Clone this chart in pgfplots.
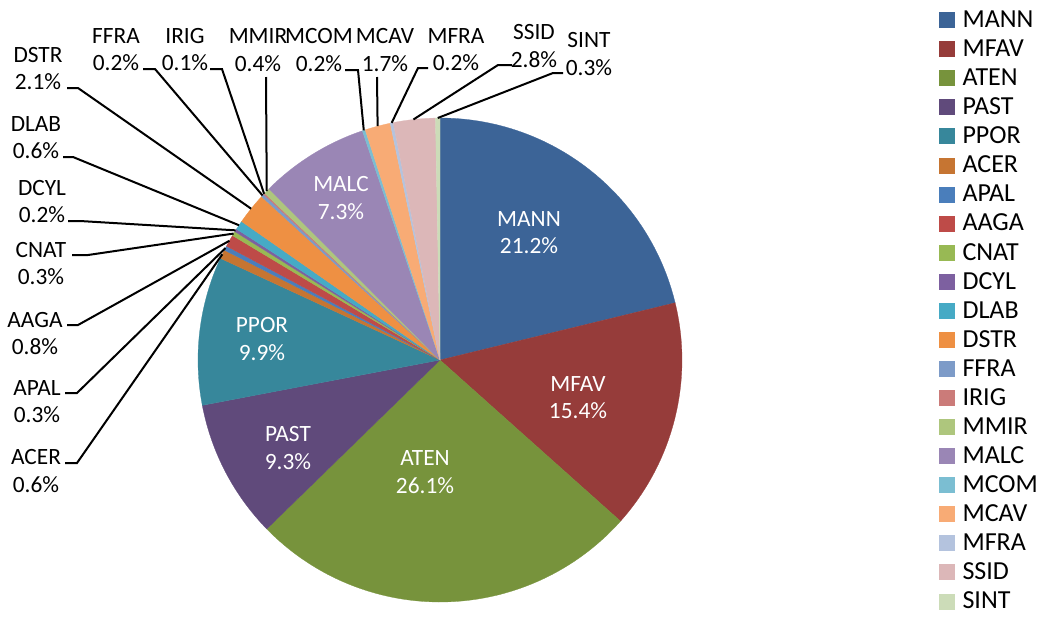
\documentclass[border=0pt]{standalone}
\usepackage{pgfplots}
\pgfplotsset{compat=1.18}
\usepackage{pgfplotstable}
\usepackage{fontspec}
\setmainfont{Carlito}

\definecolor{cMANN}{HTML}{3C6497}
\definecolor{cMFAV}{HTML}{963C3A}
\definecolor{cATEN}{HTML}{77933C}
\definecolor{cPAST}{HTML}{604A7B}
\definecolor{cPPOR}{HTML}{37879B}
\definecolor{cACER}{HTML}{C67532}
\definecolor{cAPAL}{HTML}{4A7EBB}
\definecolor{cAAGA}{HTML}{BE4B48}
\definecolor{cCNAT}{HTML}{98B954}
\definecolor{cDCYL}{HTML}{7D60A0}
\definecolor{cDLAB}{HTML}{46AAC5}
\definecolor{cDSTR}{HTML}{EE9043}
\definecolor{cFFRA}{HTML}{7D9BC8}
\definecolor{cIRIG}{HTML}{CB7B79}
\definecolor{cMMIR}{HTML}{AEC67D}
\definecolor{cMALC}{HTML}{9A86B5}
\definecolor{cMCOM}{HTML}{7BBED2}
\definecolor{cMCAV}{HTML}{F8AB75}
\definecolor{cMFRA}{HTML}{B4C3DE}
\definecolor{cSSID}{HTML}{DCB7B8}
\definecolor{cSINT}{HTML}{CCDCB8}

\pgfplotstableread{
name value col
MANN 21.2 cMANN
MFAV 15.4 cMFAV
ATEN 26.1 cATEN
PAST 9.3 cPAST
PPOR 9.9 cPPOR
ACER 0.6 cACER
APAL 0.3 cAPAL
AAGA 0.8 cAAGA
CNAT 0.3 cCNAT
DCYL 0.2 cDCYL
DLAB 0.6 cDLAB
DSTR 2.1 cDSTR
FFRA 0.2 cFFRA
IRIG 0.1 cIRIG
MMIR 0.4 cMMIR
MALC 7.3 cMALC
MCOM 0.2 cMCOM
MCAV 1.7 cMCAV
MFRA 0.2 cMFRA
SSID 2.8 cSSID
SINT 0.3 cSINT
}\piedata

\newcommand{\edgept}[1]{([shift={(#1:181.5pt)}]axis cs:440,360)}

\begin{document}
\begin{tikzpicture}[font=\fontsize{17.5pt}{20.6pt}\selectfont]
\begin{axis}[name=ax, x=0.75pt, y=0.75pt, xmin=0, xmax=1038, ymin=0, ymax=618,
  y dir=reverse, hide axis, clip=false,
  legend style={at={(axis cs:939,0)}, anchor=north west, draw=none, fill=none,
    inner sep=0pt, outer sep=0pt, row sep=0pt, column sep=6pt,
    font=\fontsize{19.5pt}{22pt}\selectfont,
    cells={anchor=base west},
    nodes={inner sep=0pt, text height=20.6pt, text depth=1.2pt}},
]
\def\cum{0}
\pgfplotsforeachungrouped \i in {0,...,20}{%
  \pgfplotstablegetelem{\i}{value}\of\piedata\let\sliceval\pgfplotsretval
  \pgfplotstablegetelem{\i}{col}\of\piedata\let\slicecol\pgfplotsretval
  \pgfplotstablegetelem{\i}{name}\of\piedata\let\slicename\pgfplotsretval
  \pgfmathsetmacro\sa{90-3.6*\cum}%
  \pgfmathsetmacro\cum{\cum+\sliceval}%
  \pgfmathsetmacro\ea{90-3.6*\cum}%
  \edef\temp{%
    \noexpand\fill[\slicecol, draw=\slicecol, line width=0.2pt] (axis cs:440,360) -- ([shift={(\sa:181.5pt)}]axis cs:440,360) arc[start angle=\sa, end angle=\ea, radius=181.5pt] -- cycle;
    \noexpand\addlegendimage{legend image code/.code={\noexpand\fill[\slicecol] (0pt,0pt) rectangle (11.25pt,11.25pt);}}
    \noexpand\addlegendentry{\slicename}%
  }\temp
}

% inside labels
\node[text=white, align=center] at (axis cs:529,232.5) {MANN\\21.2\%};
\node[text=white, align=center] at (axis cs:578,397.5) {MFAV\\15.4\%};
\node[text=white, align=center] at (axis cs:425,472) {ATEN\\26.1\%};
\node[text=white, align=center] at (axis cs:288,448) {PAST\\9.3\%};
\node[text=white, align=center] at (axis cs:262,339) {PPOR\\9.9\%};
\node[text=white, align=center] at (axis cs:341,198) {MALC\\7.3\%};

% outside labels
\node[align=center] at (axis cs:116,49.5) {FFRA\\0.2\%};
\node[align=center] at (axis cs:185,49.5) {IRIG\\0.1\%};
\node[align=center] at (axis cs:258,50) {MMIR\\0.4\%};
\node[align=center] at (axis cs:319,50) {MCOM\\0.2\%};
\node[align=center] at (axis cs:385,50) {MCAV\\1.7\%};
\node[align=center] at (axis cs:456,49.5) {MFRA\\0.2\%};
\node[align=center] at (axis cs:534,46) {SSID\\2.8\%};
\node[align=center] at (axis cs:589,54) {SINT\\0.3\%};
\node[align=center] at (axis cs:38,68.5) {DSTR\\2.1\%};
\node[align=center] at (axis cs:36,137.5) {DLAB\\0.6\%};
\node[align=center] at (axis cs:42,201.5) {DCYL\\0.2\%};
\node[align=center] at (axis cs:41,263.5) {CNAT\\0.3\%};
\node[align=center] at (axis cs:35,333.5) {AAGA\\0.8\%};
\node[align=center] at (axis cs:37,401.5) {APAL\\0.3\%};
\node[align=center] at (axis cs:36,471) {ACER\\0.6\%};

% leader lines
\begin{scope}[line width=1.5pt]
\draw (axis cs:67,88) -- (axis cs:78,88) -- \edgept{141.3};
\draw (axis cs:63,157) -- (axis cs:73,157) -- \edgept{146.16};
\draw (axis cs:68,221) -- (axis cs:80,221) -- \edgept{147.6};
\draw (axis cs:72,255) -- (axis cs:88,255) -- \edgept{148.5};
\draw (axis cs:67,325) -- (axis cs:78,325) -- \edgept{150.48};
\draw (axis cs:65,393) -- (axis cs:77,393) -- \edgept{152.46};
\draw (axis cs:65,463) -- (axis cs:77,463) -- \edgept{154.08};
\draw (axis cs:143,69) -- (axis cs:155,69) -- \edgept{137.16};
\draw (axis cs:210,69) -- (axis cs:222,69) -- \edgept{136.62};
\draw (axis cs:266,77) -- \edgept{135.72};
\draw (axis cs:345,70) -- (axis cs:358,70) -- \edgept{108.36};
\draw (axis cs:377,77) -- \edgept{104.94};
\draw (axis cs:428,68) -- (axis cs:418,68) -- \edgept{101.52};
\draw (axis cs:512,65) -- (axis cs:498,65) -- \edgept{96.3};
\draw (axis cs:563,73) -- (axis cs:553,73) -- \edgept{90.54};
\end{scope}
\end{axis}
\pgfresetboundingbox
\path (ax.south west) rectangle (ax.north east);
\end{tikzpicture}
\end{document}
